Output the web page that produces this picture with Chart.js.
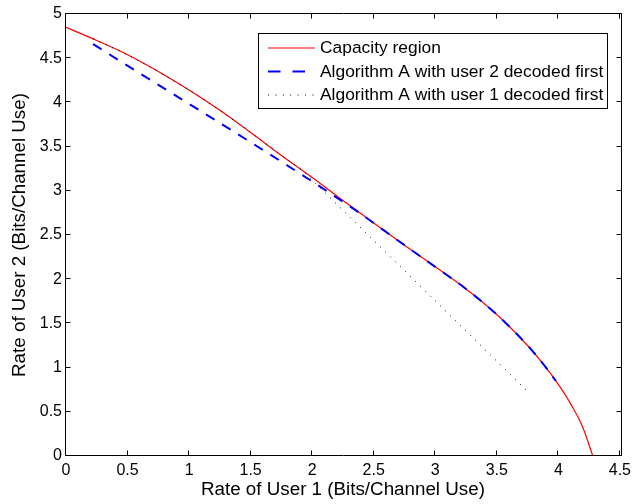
<!DOCTYPE html>
<html>
<head>
<meta charset="utf-8">
<script src="https://cdn.jsdelivr.net/npm/chart.js@4.4.1/dist/chart.umd.min.js"></script>
<style>
html,body{margin:0;padding:0;background:#fff;}
#wrap{width:636px;height:504px;position:relative;}
</style>
</head>
<body>
<div id="wrap"><canvas id="c" width="636" height="504"></canvas></div>
<script>
// ---- data ----
const capacityX = [0, 0.25, 0.5, 0.75, 1.0, 1.25, 1.5, 1.75, 2.0, 2.25, 2.5, 2.75, 3.0, 3.25, 3.5, 3.75, 3.9, 4.0, 4.1, 4.2, 4.28];
const capacityY = [4.85, 4.70, 4.54, 4.35, 4.14, 3.91, 3.66, 3.40, 3.15, 2.89, 2.635, 2.385, 2.14, 1.89, 1.60, 1.25, 1.0, 0.81, 0.59, 0.32, 0];

const algUser2FirstX = [0.22, 2.38, 2.5, 2.75, 3.0, 3.25, 3.5, 3.75, 3.9, 3.98];
const algUser2FirstY = [4.66, 2.755, 2.635, 2.385, 2.14, 1.89, 1.60, 1.25, 1.0, 0.848];

const algUser1FirstX = [0.22, 0.5, 0.75, 1.0, 1.25, 1.5, 1.75, 1.92, 3.74];
const algUser1FirstY = [4.72, 4.54, 4.35, 4.14, 3.91, 3.66, 3.40, 3.23, 0.745];

const xTicks = [0, 0.5, 1, 1.5, 2, 2.5, 3, 3.5, 4, 4.5];
const yTicks = [0, 0.5, 1, 1.5, 2, 2.5, 3, 3.5, 4, 4.5, 5];

const seriesNames = ['Capacity region', 'Algorithm A with user 2 decoded first', 'Algorithm A with user 1 decoded first'];
const xTitle = 'Rate of User 1 (Bits/Channel Use)';
const yTitle = 'Rate of User 2 (Bits/Channel Use)';

const FONT = "'Liberation Sans', Arial, Helvetica, sans-serif";
const toPts = (xs, ys) => xs.map((x, i) => ({x: x, y: ys[i]}));

// frame with inward ticks (MATLAB style box)
const framePlugin = {
  id: 'frame',
  afterDatasetsDraw(chart) {
    const {ctx, scales} = chart;
    const L = 65.5, R = 621.5, T = 13.5, B = 455.5, tl = 5;
    ctx.save();
    ctx.strokeStyle = '#000';
    ctx.lineWidth = 1;
    ctx.beginPath();
    ctx.rect(L, T, R - L, B - T);
    xTicks.forEach(v => {
      const px = Math.round(scales.x.getPixelForValue(v)) - 0.5;
      ctx.moveTo(px, B); ctx.lineTo(px, B - tl);
      ctx.moveTo(px, T); ctx.lineTo(px, T + tl);
    });
    yTicks.forEach(v => {
      const py = Math.round(scales.y.getPixelForValue(v)) - 0.5;
      ctx.moveTo(L, py); ctx.lineTo(L + tl, py);
      ctx.moveTo(R, py); ctx.lineTo(R - tl, py);
    });
    ctx.stroke();
    ctx.restore();
  }
};

// legend box inside plot (top right)
const legendPlugin = {
  id: 'boxLegend',
  afterDraw(chart) {
    const {ctx} = chart;
    const bx = 258.5, by = 33.5, bw = 349, bh = 75;
    ctx.save();
    ctx.fillStyle = '#fff';
    ctx.fillRect(bx, by, bw, bh);
    ctx.strokeStyle = '#000';
    ctx.lineWidth = 1;
    ctx.strokeRect(bx, by, bw, bh);
    const rows = [48, 71.5, 95];
    const dashes = [[], [12.5, 12], [1, 6.4]];
    chart.data.datasets.forEach((ds, i) => {
      const y = rows[i];
      ctx.beginPath();
      ctx.setLineDash(dashes[i]);
      ctx.strokeStyle = ds.borderColor;
      ctx.lineWidth = ds.borderWidth;
      ctx.moveTo(268, y); ctx.lineTo(315, y);
      ctx.stroke();
      ctx.setLineDash([]);
      ctx.fillStyle = '#000';
      ctx.font = '17.4px ' + FONT;
      ctx.textBaseline = 'middle';
      ctx.textAlign = 'left';
      ctx.fillText(ds.label, 320, y + 0.5);
    });
    ctx.restore();
  }
};

new Chart(document.getElementById('c'), {
  type: 'line',
  data: {
    datasets: [
      {label: seriesNames[0], data: toPts(capacityX, capacityY), borderColor: '#ff0000', borderWidth: 1.2,
       pointRadius: 0, cubicInterpolationMode: 'monotone', fill: false, order: 3},
      {label: seriesNames[1], data: toPts(algUser2FirstX, algUser2FirstY), borderColor: '#0000ff', borderWidth: 2,
       borderDash: [10, 9], pointRadius: 0, cubicInterpolationMode: 'monotone', fill: false, order: 2},
      {label: seriesNames[2], data: toPts(algUser1FirstX, algUser1FirstY), borderColor: '#000000', borderWidth: 1,
       borderDash: [1, 6], pointRadius: 0, tension: 0, fill: false, order: 1}
    ]
  },
  options: {
    responsive: false,
    animation: false,
    devicePixelRatio: 1,
    layout: {padding: {left: 0, top: 14, right: 14, bottom: 0}},
    plugins: {legend: {display: false}, tooltip: {enabled: false}},
    scales: {
      x: {
        type: 'linear', min: 0, max: 4.5,
        afterBuildTicks: s => { s.ticks = xTicks.map(v => ({value: v})); },
        afterFit: s => { s.height = 48; },
        grid: {display: false, drawTicks: false},
        border: {display: false},
        ticks: {color: '#000', padding: 5, maxRotation: 0, autoSkip: false,
                font: {family: FONT, size: 16}, callback: v => String(v)},
        title: {display: true, text: xTitle, color: '#000', font: {family: FONT, size: 18.8},
                padding: {top: 0, bottom: 3}}
      },
      y: {
        type: 'linear', min: 0, max: 5,
        afterBuildTicks: s => { s.ticks = yTicks.map(v => ({value: v})); },
        afterFit: s => { s.width = 66; },
        grid: {display: false, drawTicks: false},
        border: {display: false},
        ticks: {color: '#000', padding: 4, autoSkip: false,
                font: {family: FONT, size: 16}, callback: v => String(v)},
        title: {display: true, text: yTitle, color: '#000', font: {family: FONT, size: 18.8},
                padding: {top: 9, bottom: 0}}
      }
    }
  },
  plugins: [framePlugin, legendPlugin]
});
</script>
</body>
</html>
